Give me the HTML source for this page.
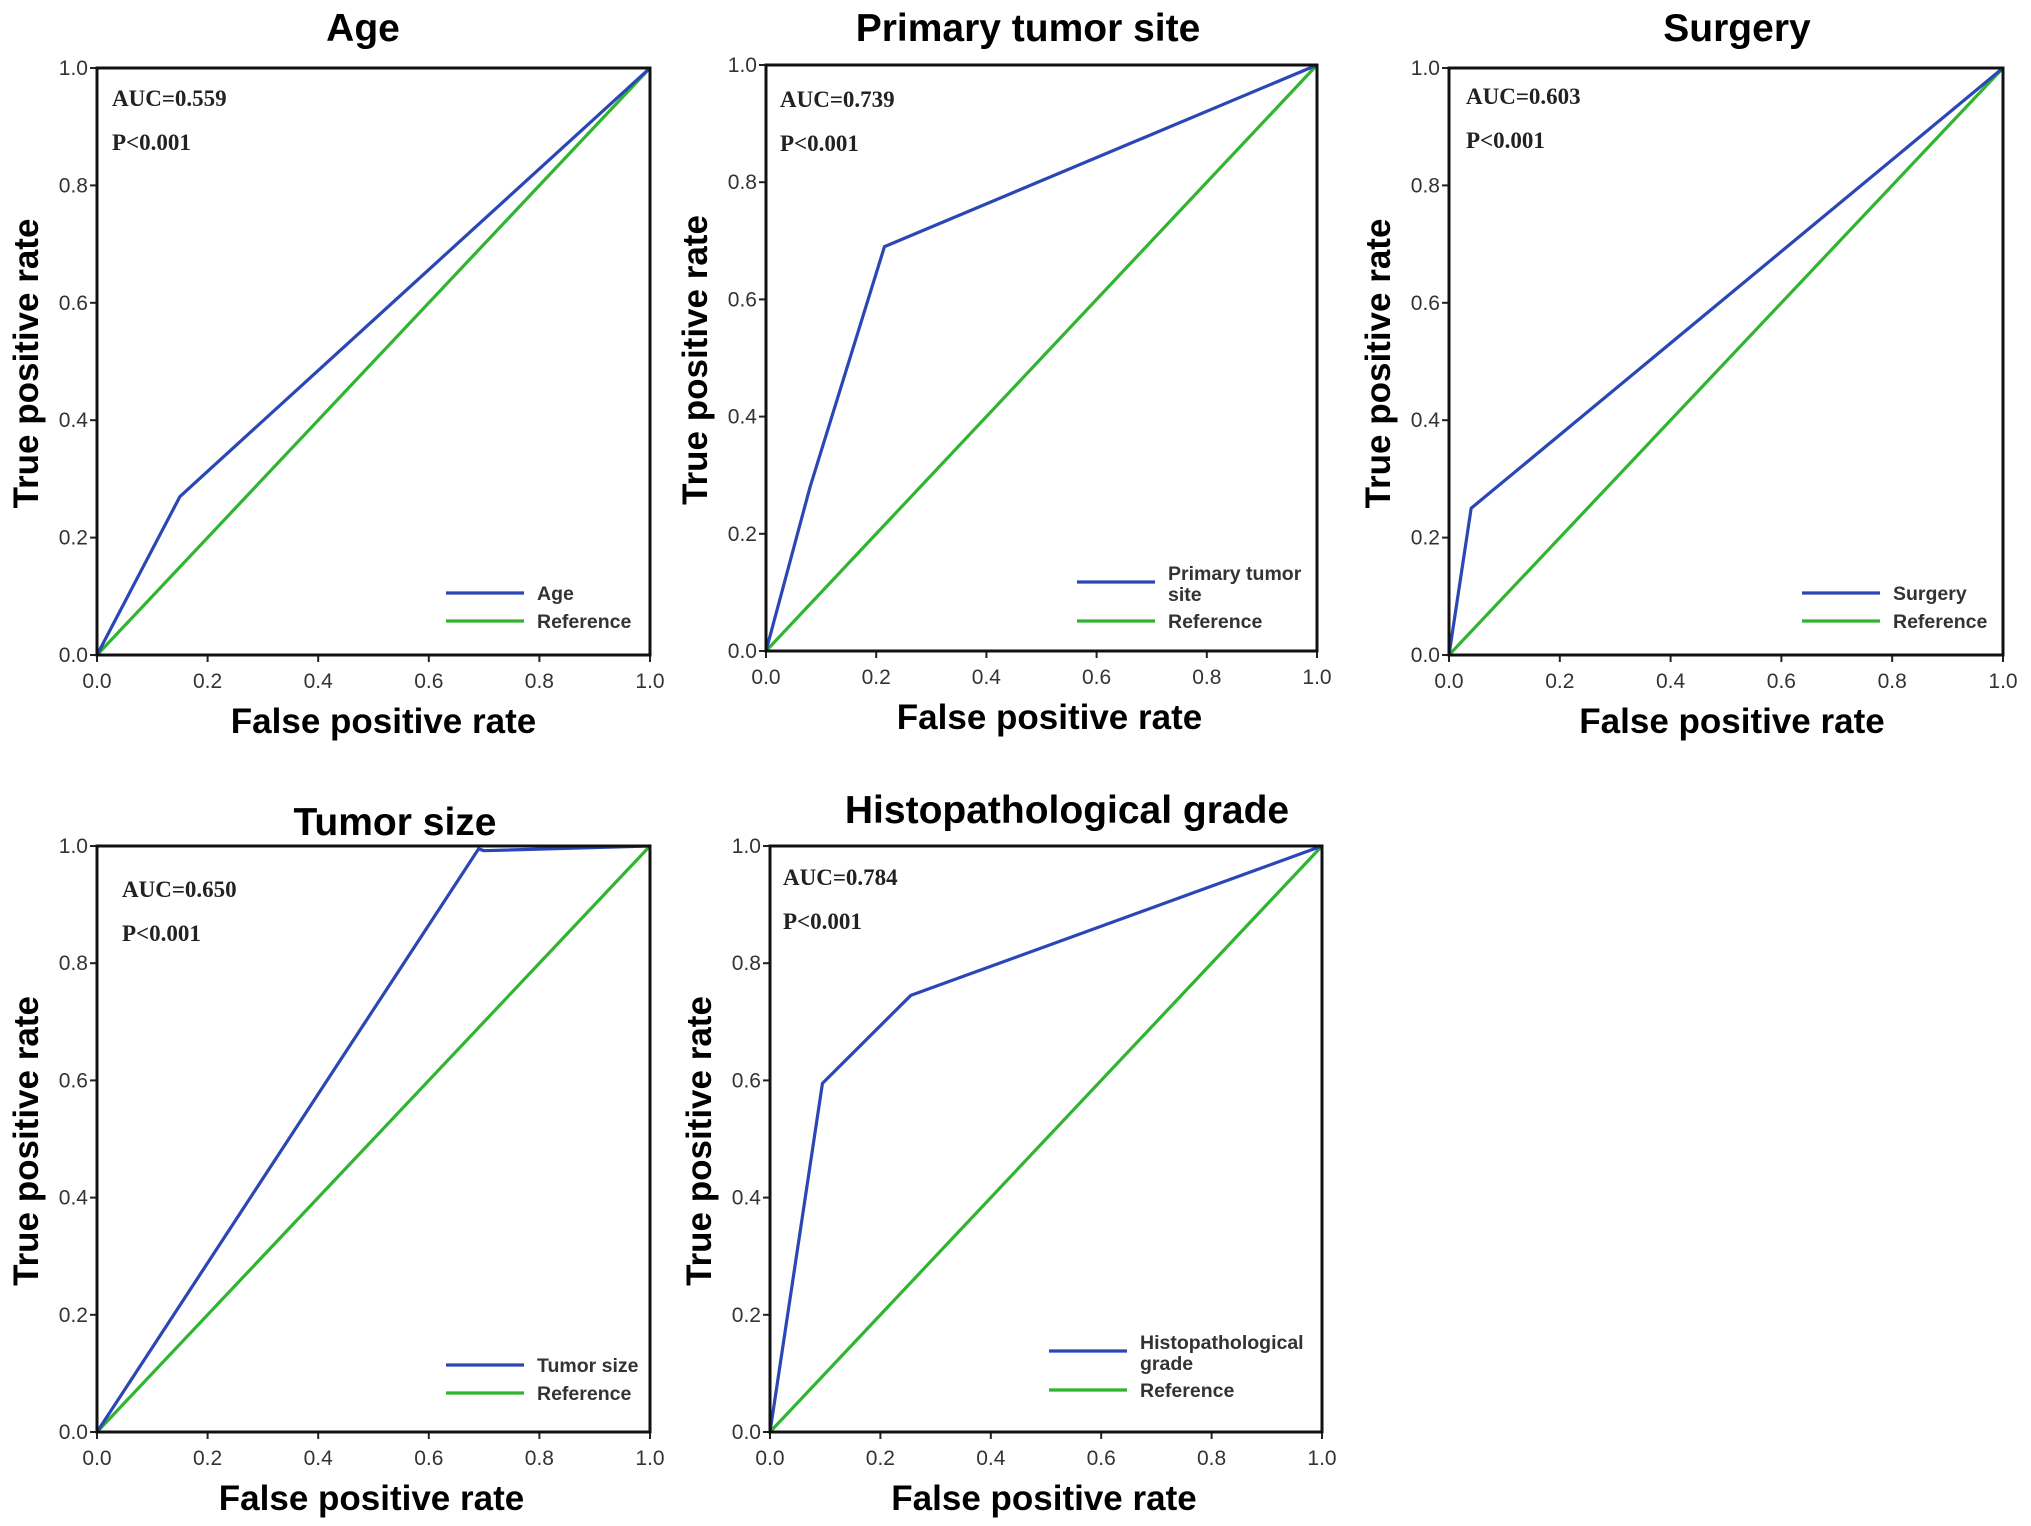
<!DOCTYPE html>
<html><head><meta charset="utf-8"><style>
html,body{margin:0;padding:0;background:#fff;}
svg{display:block;}
</style></head><body>
<svg id="fig" width="2031" height="1526" viewBox="0 0 2031 1526" xmlns="http://www.w3.org/2000/svg"></svg>
<script>
// ---- data ----
const panelTitles = ["Age", "Primary tumor site", "Surgery", "Tumor size", "Histopathological grade"];
const aucLabels = ["AUC=0.559", "AUC=0.739", "AUC=0.603", "AUC=0.650", "AUC=0.784"];
const pLabels = ["P<0.001", "P<0.001", "P<0.001", "P<0.001", "P<0.001"];
const ageFpr = [0, 0.15, 1];
const ageTpr = [0, 0.27, 1];
const siteFpr = [0, 0.08, 0.215, 1];
const siteTpr = [0, 0.28, 0.69, 1];
const surgFpr = [0, 0.04, 1];
const surgTpr = [0, 0.25, 1];
const sizeFpr = [0, 0.69, 0.70, 1];
const sizeTpr = [0, 0.995, 0.992, 1];
const gradeFpr = [0, 0.095, 0.255, 1];
const gradeTpr = [0, 0.595, 0.745, 1];
const refFpr = [0, 1];
const refTpr = [0, 1];
const tickLabels = ["0.0", "0.2", "0.4", "0.6", "0.8", "1.0"];
const tickValues = [0, 0.2, 0.4, 0.6, 0.8, 1.0];
const legendNames = [["Age"], ["Primary tumor", "site"], ["Surgery"], ["Tumor size"], ["Histopathological", "grade"]];

// ---- layout ----
const layouts = [
  {x0:97, x1:650, y0:68, y1:655, tx:363, ty:41, aucDx:15, aucDy:38, legX:446, legY:593, xtDx:10},
  {x0:766, x1:1317, y0:65, y1:651, tx:1028, ty:41, aucDx:14, aucDy:42, legX:1077, legY:582, xtDx:8},
  {x0:1449, x1:2003, y0:68, y1:655, tx:1737, ty:41, aucDx:17, aucDy:36, legX:1802, legY:593, xtDx:6},
  {x0:97, x1:650, y0:846, y1:1432, tx:395, ty:835, aucDx:25, aucDy:51, legX:446, legY:1365, xtDx:-2},
  {x0:770, x1:1322, y0:846, y1:1432, tx:1067, ty:823, aucDx:13, aucDy:39, legX:1049, legY:1351, xtDx:-2}
];
const series = [[ageFpr, ageTpr], [siteFpr, siteTpr], [surgFpr, surgTpr], [sizeFpr, sizeTpr], [gradeFpr, gradeTpr]];
const NS = "http://www.w3.org/2000/svg";
const svg = document.getElementById("fig");
function mk(tag, attrs, parent) {
  const e = document.createElementNS(NS, tag);
  for (const k in attrs) e.setAttribute(k, attrs[k]);
  parent.appendChild(e);
  return e;
}
const BLUE = "#2b46b5", GREEN = "#2fb52f";
const sans = '"Liberation Sans", Arial, sans-serif';
const serif = '"Liberation Serif", "Times New Roman", serif';

layouts.forEach((L, i) => {
  const g = mk("g", {}, svg);
  
  
  const sx = v => L.x0 + v * (L.x1 - L.x0);
  const sy = v => L.y1 - v * (L.y1 - L.y0);

  const t = mk("text", {x: L.tx, y: L.ty, "text-anchor": "middle", "font-family": sans, "font-weight": "bold", "font-size": 39, fill: "#000"}, g);
  t.textContent = panelTitles[i];
  
  

  tickValues.forEach((v, k) => {
    mk("line", {x1: sx(v), x2: sx(v), y1: L.y1, y2: L.y1 + 7, stroke: "#222", "stroke-width": 2}, g);
    mk("line", {x1: L.x0 - 7, x2: L.x0, y1: sy(v), y2: sy(v), stroke: "#222", "stroke-width": 2}, g);
    const xl = mk("text", {x: sx(v), y: L.y1 + 33, "text-anchor": "middle", "font-family": sans, "font-size": 21, fill: "#333"}, g);
    xl.textContent = tickLabels[k];
    
    
    const yl = mk("text", {x: L.x0 - 9, y: sy(v) + 7, "text-anchor": "end", "font-family": sans, "font-size": 21, fill: "#333"}, g);
    yl.textContent = tickLabels[k];
    
    
  });

  const xt = mk("text", {x: (L.x0 + L.x1) / 2 + L.xtDx, y: L.y1 + 78, "text-anchor": "middle", "font-family": sans, "font-weight": "bold", "font-size": 35, fill: "#000"}, g);
  xt.textContent = "False positive rate";
  
  
  const cy = (L.y0 + L.y1) / 2 + 2;
  const yx = L.x0 - 59;
  const yt = mk("text", {x: yx, y: cy, "text-anchor": "middle", "font-family": sans, "font-weight": "bold", "font-size": 35, fill: "#000", transform: "rotate(-90 " + yx + " " + cy + ")"}, g);
  yt.textContent = "True positive rate";
  
  

  const rp = refFpr.map((f, k) => sx(f) + "," + sy(refTpr[k])).join(" ");
  const rl = mk("polyline", {points: rp, fill: "none", stroke: GREEN, "stroke-width": 3.2}, g);
  
  
  const [fx, ty] = series[i];
  const cp = fx.map((f, k) => sx(f) + "," + sy(ty[k])).join(" ");
  const cl = mk("polyline", {points: cp, fill: "none", stroke: BLUE, "stroke-width": 3.2, "stroke-linejoin": "round"}, g);
  
  

  const fr = mk("rect", {x: L.x0, y: L.y0, width: L.x1 - L.x0, height: L.y1 - L.y0, fill: "none", stroke: "#111", "stroke-width": 3}, g);
  
  

  const a = mk("text", {x: L.x0 + L.aucDx, y: L.y0 + L.aucDy, "font-family": serif, "font-weight": "bold", "font-size": 23, fill: "#222"}, g);
  a.textContent = aucLabels[i];
  
  
  const p = mk("text", {x: L.x0 + L.aucDx, y: L.y0 + L.aucDy + 44, "font-family": serif, "font-weight": "bold", "font-size": 23, fill: "#222"}, g);
  p.textContent = pLabels[i];
  
  

  const lg = mk("g", {}, g);
  
  
  const names = legendNames[i];
  mk("line", {x1: L.legX, x2: L.legX + 78, y1: L.legY, y2: L.legY, stroke: BLUE, "stroke-width": 3.2}, lg);
  names.forEach((n, k) => {
    const off = names.length > 1 ? (k === 0 ? -9 : 12) : 0;
    const lt = mk("text", {x: L.legX + 91, y: L.legY + 7 + off, "font-family": sans, "font-weight": "bold", "font-size": 19.5, fill: "#333"}, lg);
    lt.textContent = n;
    
    
  });
  const refY = names.length > 1 ? L.legY + 39 : L.legY + 28;
  mk("line", {x1: L.legX, x2: L.legX + 78, y1: refY, y2: refY, stroke: GREEN, "stroke-width": 3.2}, lg);
  const rt = mk("text", {x: L.legX + 91, y: refY + 7, "font-family": sans, "font-weight": "bold", "font-size": 19.5, fill: "#333"}, lg);
  rt.textContent = "Reference";
  
  
});
</script>
</body></html>
